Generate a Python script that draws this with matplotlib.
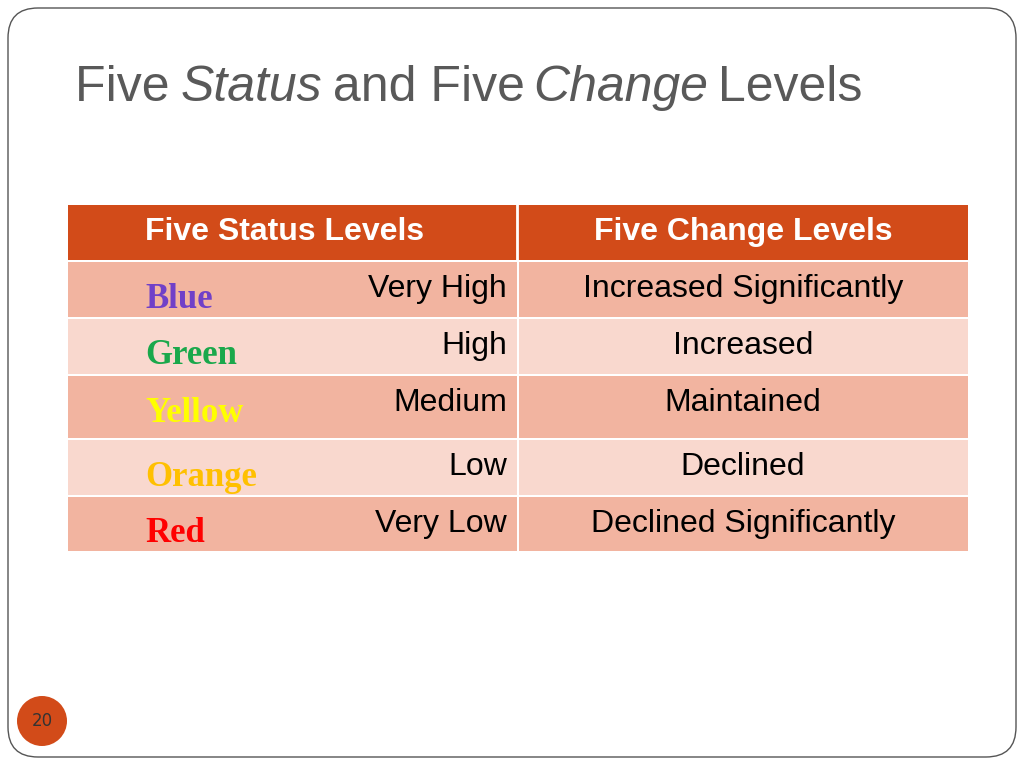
import matplotlib
matplotlib.use("Agg")
import matplotlib.pyplot as plt
from matplotlib.patches import FancyBboxPatch, Rectangle, Circle

title_parts = [("Five ", "normal"), ("Status", "italic"), (" and Five ", "normal"), ("Change", "italic"), (" Levels", "normal")]
headers = ["Five Status Levels", "Five Change Levels"]
color_words = ["Blue", "Green", "Yellow", "Orange", "Red"]
word_colors = ["#7040C8", "#1AA84B", "#FFFF00", "#FFC000", "#FF0000"]
status_levels = ["Very High", "High", "Medium", "Low", "Very Low"]
change_levels = ["Increased Significantly", "Increased", "Maintained", "Declined", "Declined Significantly"]
row_tops = [262, 319, 376, 440, 497]
row_bottoms = [317, 374, 438, 495, 551]
page_number = "20"

fig = plt.figure(figsize=(10.24, 7.68), dpi=100)
ax = fig.add_axes([0, 0, 1, 1])
ax.set_xlim(0, 1024); ax.set_ylim(768, 0); ax.axis("off")

ax.add_patch(FancyBboxPatch((8, 8), 1008, 749, boxstyle="round,pad=0,rounding_size=30",
                            fc="white", ec="#555555", lw=1))

x = 75
fig.canvas.draw()
for txt, style in title_parts:
    t = ax.text(x, 88, txt, fontsize=36, color="#595959", style=style, va="center", ha="left",
                family="Liberation Sans Narrow" if False else "Liberation Sans")
    fig.canvas.draw()
    x += t.get_window_extent().width * 0.975

ax.add_patch(Rectangle((68, 205), 900, 55, fc="#D24B19", ec="none"))
ax.text(145, 232, headers[0], fontsize=23, color="white", weight="bold", va="center", family="Liberation Sans")
ax.text(743, 232, headers[1], fontsize=23, color="white", weight="bold", va="center", ha="center", family="Liberation Sans")
ax.plot([517, 517], [205, 260], color="white", lw=2)

for i in range(5):
    top, bot = row_tops[i], row_bottoms[i]
    fc = "#F2B4A0" if i % 2 == 0 else "#F9D8CE"
    ax.add_patch(Rectangle((68, top), 449, bot - top, fc=fc, ec="none"))
    ax.add_patch(Rectangle((519, top), 449, bot - top, fc=fc, ec="none"))
    ax.text(145, top + 37, color_words[i], fontsize=25, color=word_colors[i], weight="bold",
            va="center", family="Liberation Serif")
    ax.text(507, top + 27, status_levels[i], fontsize=23, color="black", ha="right", va="center",
            family="Liberation Sans")
    ax.text(743, top + 27, change_levels[i], fontsize=23, color="black", ha="center", va="center",
            family="Liberation Sans")

ax.add_patch(Circle((42, 721), 25, fc="#D24B19", ec="none"))
ax.text(42, 721, page_number, fontsize=12, color="#333333", ha="center", va="center")

fig.savefig("out.png", dpi=100)
